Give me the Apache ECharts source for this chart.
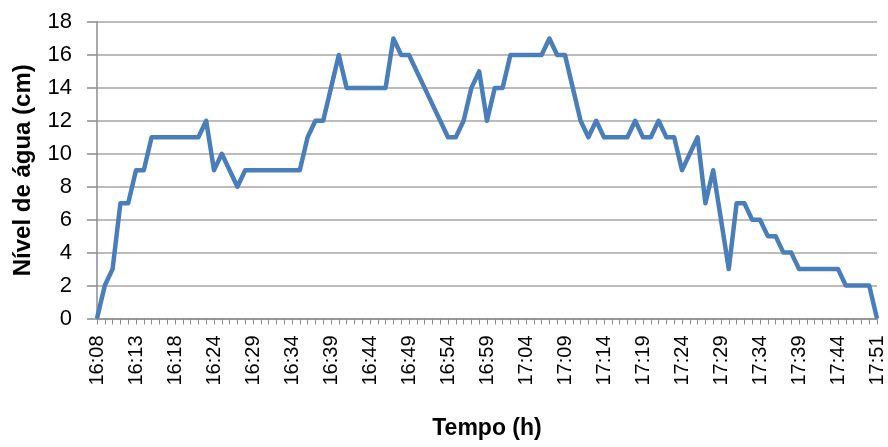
<!DOCTYPE html>
<html>
<head>
<meta charset="utf-8">
<script src="https://cdn.jsdelivr.net/npm/echarts@6/dist/echarts.min.js"></script>
<style>
html,body{margin:0;padding:0;background:#fff;}
#c{width:888px;height:447px;}
</style>
</head>
<body>
<div id="c"></div>
<script>
var times = [
 "16:08","16:09","16:10","16:11","16:12","16:13","16:14","16:15","16:16","16:17",
 "16:18","16:19","16:20","16:21","16:22","16:24","16:25","16:26","16:27","16:28",
 "16:29","16:30","16:31","16:32","16:33","16:34","16:35","16:36","16:37","16:38",
 "16:39","16:40","16:41","16:42","16:43","16:44","16:45","16:46","16:47","16:48",
 "16:49","16:50","16:51","16:52","16:53","16:54","16:55","16:56","16:57","16:58",
 "16:59","17:00","17:01","17:02","17:03","17:04","17:05","17:06","17:07","17:08",
 "17:09","17:10","17:11","17:12","17:13","17:14","17:15","17:16","17:17","17:18",
 "17:19","17:20","17:21","17:22","17:23","17:24","17:25","17:26","17:27","17:28",
 "17:29","17:30","17:31","17:32","17:33","17:34","17:35","17:36","17:37","17:38",
 "17:39","17:40","17:41","17:42","17:43","17:44","17:45","17:46","17:47","17:48",
 "17:51"
];
var nivel = [
 0,2,3,7,7,9,9,11,11,11,
 11,11,11,11,12,9,10,9,8,9,
 9,9,9,9,9,9,9,11,12,12,
 14,16,14,14,14,14,14,14,17,16,
 16,15,14,13,12,11,11,12,14,15,
 12,14,14,16,16,16,16,16,17,16,
 16,14,12,11,12,11,11,11,11,12,
 11,11,12,11,11,9,10,11,7,9,
 6,3,7,7,6,6,5,5,4,4,
 3,3,3,3,3,3,2,2,2,2,
 0
];
var yTicks = { min: 0, max: 18, interval: 2 };
var xTitle = "Tempo (h)";
var yTitle = "Nível de água (cm)";

var chart = echarts.init(document.getElementById('c'), null, {renderer: 'canvas'});
chart.setOption({
  animation: false,
  backgroundColor: '#ffffff',
  grid: { left: 97, right: 11, top: 22, bottom: 128.5, containLabel: false, outerBoundsMode: 'none' },
  xAxis: {
    type: 'category',
    data: times,
    boundaryGap: false,
    name: xTitle,
    nameLocation: 'middle',
    nameGap: 99,
    nameTextStyle: { fontFamily: 'Liberation Sans', fontWeight: 'bold', fontSize: 23, color: '#000' },
    axisLine: { lineStyle: { color: '#8c8c8c', width: 1.5 } },
    axisTick: { show: true, interval: 0, length: 6, lineStyle: { color: '#8c8c8c', width: 1 } },
    axisLabel: { interval: 4, rotate: 90, margin: 17, fontFamily: 'Liberation Sans', fontSize: 20, color: '#000', hideOverlap: false },
    splitLine: { show: false }
  },
  yAxis: {
    type: 'value',
    min: yTicks.min,
    max: yTicks.max,
    interval: yTicks.interval,
    name: yTitle,
    nameLocation: 'middle',
    nameRotate: 90,
    nameGap: 62,
    nameTextStyle: { fontFamily: 'Liberation Sans', fontWeight: 'bold', fontSize: 24, color: '#000' },
    axisLine: { show: true, lineStyle: { color: '#8c8c8c', width: 1.5 } },
    axisTick: { show: true, length: 10, lineStyle: { color: '#8c8c8c', width: 1.5 } },
    axisLabel: { margin: 25, fontFamily: 'Liberation Sans', fontSize: 22, color: '#000' },
    splitLine: { show: true, lineStyle: { color: '#a6a6a6', width: 1.5 } }
  },
  series: [{
    type: 'line',
    data: nivel,
    showSymbol: false,
    symbol: 'none',
    lineStyle: { color: '#4a7ebb', width: 4.5, join: 'round' },
    itemStyle: { color: '#4a7ebb' }
  }]
});
</script>
</body>
</html>
